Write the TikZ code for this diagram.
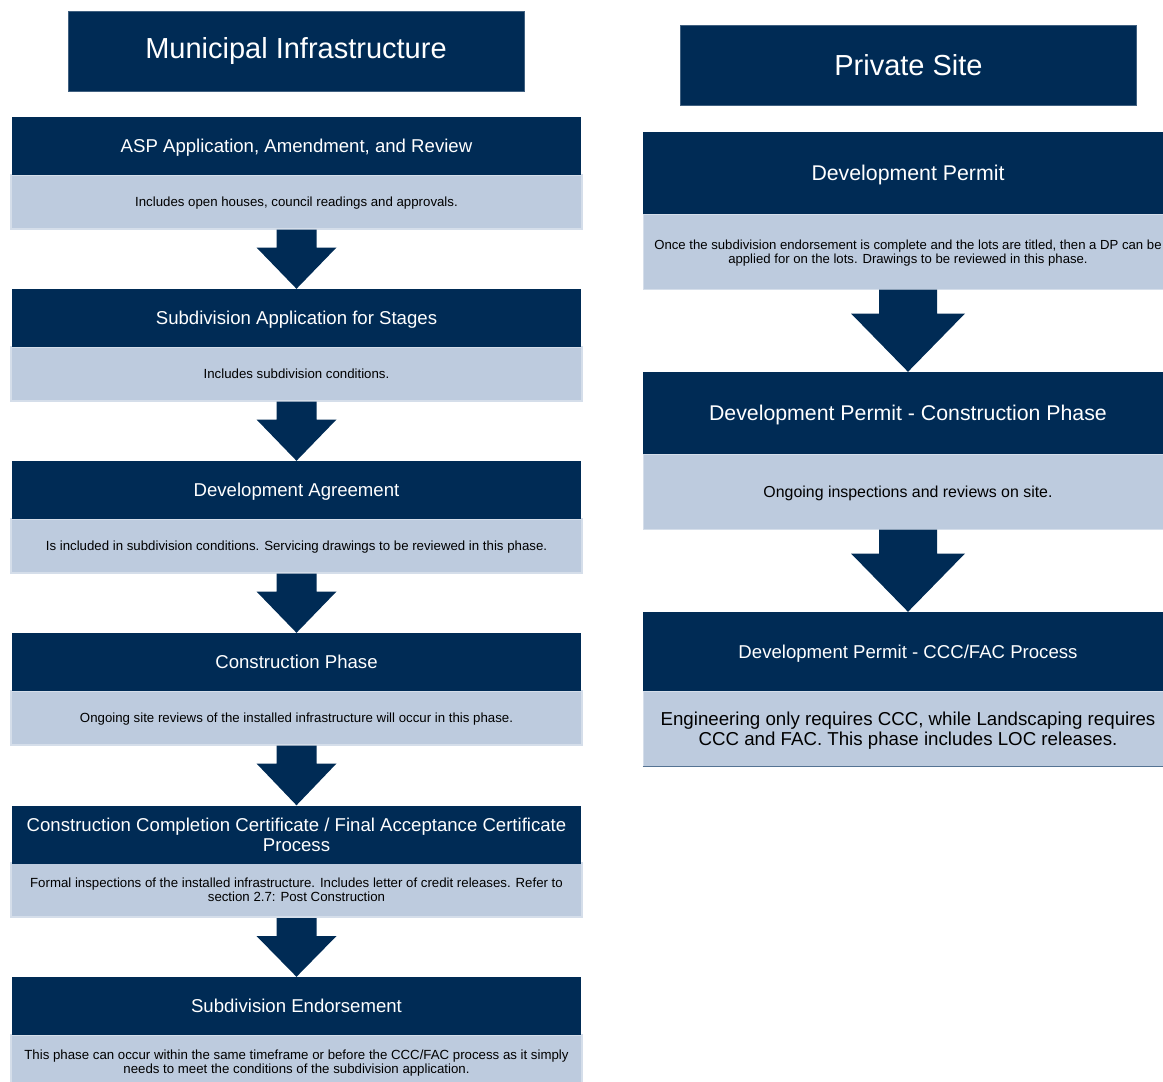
\documentclass[tikz,border=0pt]{standalone}
\usepackage{fontspec}
\setmainfont{Liberation Sans}
\usetikzlibrary{calc}
\definecolor{navy}{HTML}{002B55}
\definecolor{paleblue}{HTML}{BDCBDE}
\definecolor{paleedge}{HTML}{D5DEEA}

\newcommand{\blockarrow}[5]{%
	\fill[navy] ($(#1.south)+(-#3,0)$) -- ($(#1.south)+(#3,0)$) -- ($(#1.south)+(#3,#5)$) -- ($(#1.south)+(#4,#5)$) -- (#2.north) -- ($(#1.south)+(-#4,#5)$) -- ($(#1.south)+(-#3,#5)$) -- cycle;}

\tikzset{
	title/.style={fill=navy, draw=navy!75!white, line width=0.6pt, text=white, inner sep=0pt, minimum width=456pt, minimum height=80pt, font=\fontsize{29}{31}\selectfont},
	phase/.style={fill=navy, text=white, inner sep=0pt, align=center, text depth=0pt, minimum width=569pt, minimum height=58pt, font=\fontsize{18.6}{19.8}\selectfont},
	note/.style={fill=paleblue, draw=paleedge, line width=2pt, inner sep=0pt, align=center, text depth=0pt, minimum width=571pt, minimum height=54pt, font=\fontsize{13.25}{14.1}\selectfont},
	dpphase/.style={phase, minimum width=530pt, minimum height=82pt, font=\fontsize{21.3}{22.6}\selectfont},
	dpnote/.style={note, line width=1pt, minimum width=530pt, minimum height=75pt}
}

\begin{document}
\begin{tikzpicture}[x=1pt,y=-1pt]
	\useasboundingbox (0,0) rectangle (1163,1082);
	\node[title] (muni) at (296,51) {Municipal Infrastructure};
	\node[title] (private) at (908.5,65) {Private Site};
	% municipal side
	\node[note] (aspnote) at (296.5,201.5) {Includes open houses, council readings and approvals.};
	\node[phase] (asp) at (296.5,146) {ASP Application, Amendment, and Review};
	\node[note] (subappnote) at (296.5,373.5) {Includes subdivision conditions.};
	\node[phase] (subapp) at (296.5,318) {Subdivision Application for Stages};
	\node[note] (devagrnote) at (296.5,545.5) {Is included in subdivision conditions. Servicing drawings to be reviewed in this phase.};
	\node[phase] (devagr) at (296.5,490) {Development Agreement};
	\node[note] (constrnote) at (296.5,717.5) {Ongoing site reviews of the installed infrastructure will occur in this phase.};
	\node[phase] (constr) at (296.5,662) {Construction Phase};
	\node[note] (cccnote) at (296.5,890) {Formal inspections of the installed infrastructure. Includes letter of credit releases. Refer to\\section 2.7: Post Construction};
	\node[phase] (ccc) at (296.5,834.5) {Construction Completion Certificate / Final Acceptance Certificate\\Process};
	\node[note] (endorsenote) at (296.5,1061.5) {This phase can occur within the same timeframe or before the CCC/FAC process as it simply\\needs to meet the conditions of the subdivision application.};
	\node[phase] (endorse) at (296.5,1006) {Subdivision Endorsement};
	\blockarrow{aspnote}{subapp}{20}{40}{18}
	\blockarrow{subappnote}{devagr}{20}{40}{18}
	\blockarrow{devagrnote}{constr}{20}{40}{18}
	\blockarrow{constrnote}{ccc}{20}{40}{18}
	\blockarrow{cccnote}{endorse}{20}{40}{18}
	% private side
	\node[dpnote, font=\fontsize{13.15}{14.1}\selectfont] (permitnote) at (908,251.5) {Once the subdivision endorsement is complete and the lots are titled, then a DP can be\\applied for on the lots. Drawings to be reviewed in this phase.};
	\node[dpphase] (permit) at (908,173) {Development Permit};
	\node[dpnote, font=\fontsize{15.9}{17}\selectfont] (permitconnote) at (908,491.5) {Ongoing inspections and reviews on site.};
	\node[dpphase] (permitcon) at (908,413) {Development Permit - Construction Phase};
	\node[dpnote, font=\fontsize{18.7}{19.6}\selectfont] (permitcccnote) at (908,728.5) {Engineering only requires CCC, while Landscaping requires\\CCC and FAC. This phase includes LOC releases.};
	\node[dpphase, minimum height=79pt, font=\fontsize{18.6}{19.8}\selectfont] (permitccc) at (908,651.5) {Development Permit - CCC/FAC Process};
	\draw[navy!55!paleblue, line width=1pt] (permitcccnote.south west) -- (permitcccnote.south east);
	\blockarrow{permitnote}{permitcon}{29}{57}{24}
	\blockarrow{permitconnote}{permitccc}{29}{57}{24}
\end{tikzpicture}
\end{document}
